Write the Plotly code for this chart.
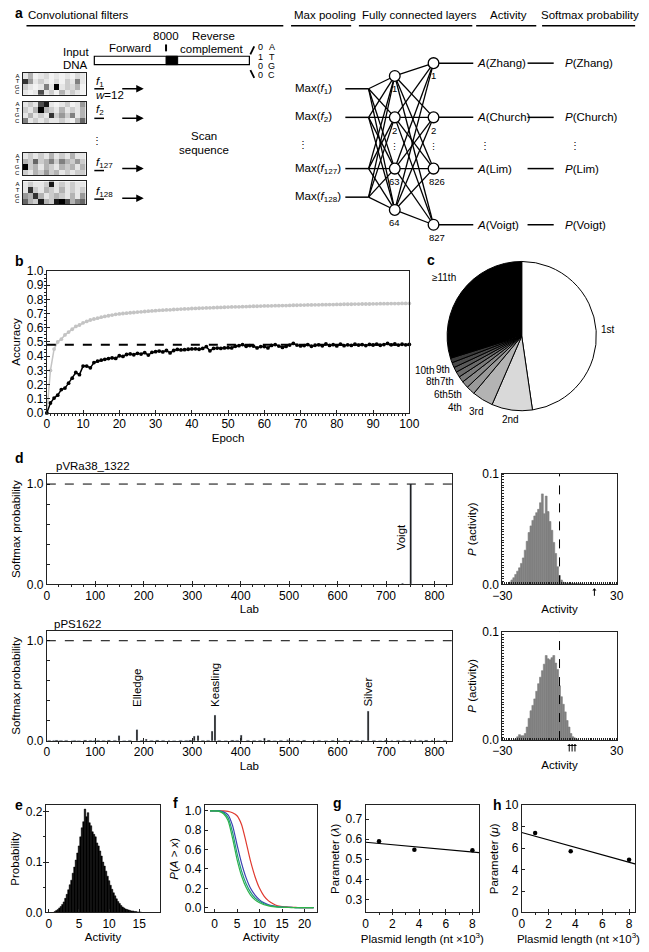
import math
import plotly.graph_objects as go

W, H = 649, 952
FONT = "Liberation Sans, Arial, Helvetica, sans-serif"
TS = 12      # tick label size
AS = 11.5    # title / annotation size


def fx(p):
    return p / W


def fy(p):
    return 1 - p / H


def dxp(a, b):
    return [a / W, b / W]


def dyp(top, bottom):
    return [1 - bottom / H, 1 - top / H]


# ---------------- DATA ----------------
# panel b : accuracy per epoch
epochs = list(range(0, 101))
train_acc = [0.0, 0.30, 0.45, 0.50, 0.52, 0.55, 0.57, 0.59, 0.61, 0.62, 0.635, 0.645, 0.655, 0.662, 0.668,
             0.675, 0.68, 0.685, 0.69, 0.695, 0.698, 0.701, 0.703, 0.706, 0.708, 0.711, 0.713, 0.715, 0.717,
             0.719, 0.721, 0.723, 0.724, 0.726, 0.727, 0.729, 0.730, 0.732, 0.733, 0.734, 0.736, 0.737, 0.738,
             0.739, 0.740, 0.741, 0.742, 0.743, 0.744, 0.745, 0.746, 0.747, 0.748, 0.748, 0.749, 0.750, 0.751,
             0.752, 0.752, 0.753, 0.754, 0.754, 0.755, 0.756, 0.756, 0.757, 0.757, 0.758, 0.759, 0.759, 0.760,
             0.760, 0.761, 0.761, 0.762, 0.762, 0.763, 0.763, 0.764, 0.764, 0.765, 0.765, 0.766, 0.766, 0.766,
             0.767, 0.767, 0.768, 0.768, 0.768, 0.769, 0.769, 0.770, 0.770, 0.770, 0.771, 0.771, 0.771, 0.772,
             0.772, 0.772]
valid_acc = [0.0, 0.07, 0.105, 0.125, 0.165, 0.175, 0.21, 0.245, 0.285, 0.27, 0.33, 0.33, 0.318, 0.355, 0.365,
             0.372, 0.378, 0.383, 0.388, 0.384, 0.403, 0.398, 0.412, 0.416, 0.41, 0.42, 0.415, 0.425, 0.408,
             0.427, 0.432, 0.436, 0.43, 0.44, 0.423, 0.44, 0.448, 0.444, 0.446, 0.449, 0.451, 0.452, 0.449,
             0.455, 0.467, 0.438, 0.455, 0.457, 0.455, 0.458, 0.46, 0.458, 0.47, 0.474, 0.482, 0.47, 0.475,
             0.471, 0.458, 0.468, 0.468, 0.458, 0.476, 0.482, 0.471, 0.462, 0.469, 0.478, 0.49, 0.478, 0.472,
             0.475, 0.482, 0.47, 0.477, 0.48, 0.473, 0.486, 0.476, 0.481, 0.472, 0.485, 0.474, 0.48, 0.476,
             0.484, 0.478, 0.482, 0.475, 0.483, 0.479, 0.485, 0.477, 0.482, 0.49, 0.48, 0.486, 0.478, 0.484,
             0.48, 0.483]
baseline_acc = 0.48

# panel c : rank of the correct lab
rank_labels = ["1st", "2nd", "3rd", "4th", "5th", "6th", "7th", "8th", "9th", "10th", "≥11th"]
rank_share = [47.7, 8.8, 4.6, 1.9, 1.5, 1.3, 1.2, 1.1, 1.1, 1.0, 29.8]

# panel d : softmax probabilities per lab
top_title = "pVRa38_1322"
top_labs = [734, 751]
top_probs = [0.012, 1.0]
top_named = [("Voigt", 731)]
bot_title = "pPS1622"
bot_labs = [14, 52, 98, 149, 186, 205, 252, 304, 312, 341, 347, 401, 449, 497, 551, 603, 663, 712, 760, 795]
bot_probs = [0.008, 0.006, 0.008, 0.055, 0.115, 0.02, 0.008, 0.05, 0.055, 0.1, 0.26, 0.06, 0.03, 0.012,
             0.008, 0.008, 0.3, 0.008, 0.012, 0.01]
bot_small_labs = [5, 20, 29, 40, 57, 66, 79, 90, 106, 117, 128, 140, 160, 171, 196, 216, 228, 240, 263, 276,
                  288, 296, 322, 333, 356, 369, 383, 393, 415, 428, 440, 458, 470, 483, 506, 518, 531, 562,
                  576, 590, 615, 628, 640, 652, 675, 688, 700, 725, 737, 750, 771, 783, 808, 821]
bot_small_probs = [0.008, 0.01, 0.007, 0.009, 0.008, 0.006, 0.01, 0.008, 0.009, 0.007, 0.01, 0.008, 0.006,
                   0.009, 0.008, 0.007, 0.01, 0.008, 0.006, 0.009, 0.008, 0.01, 0.007, 0.009, 0.008, 0.006,
                   0.01, 0.008, 0.009, 0.007, 0.008, 0.01, 0.006, 0.009, 0.008, 0.007, 0.01, 0.008, 0.006,
                   0.009, 0.008, 0.01, 0.007, 0.009, 0.008, 0.006, 0.01, 0.008, 0.009, 0.007, 0.008, 0.01,
                   0.006, 0.009]
bot_named = [("Elledge", 186), ("Keasling", 347), ("Silver", 663)]

# panel d right : activity histograms (bin centers, width 1)
act_bins_top = list(range(-26, 13))
act_p_top = [0.002, 0.004, 0.006, 0.009, 0.012, 0.015, 0.019, 0.024, 0.031, 0.039, 0.047, 0.053, 0.058,
             0.062, 0.065, 0.068, 0.074, 0.082, 0.064, 0.080, 0.066, 0.057, 0.049, 0.038, 0.028, 0.016,
             0.008, 0.004, 0.002, 0.0015, 0.001, 0.001, 0.001, 0.0008, 0.0008, 0.0006, 0.0006, 0.0005, 0.0005]
true_act_top = [18.3]
act_bins_bot = list(range(-23, 10))
act_p_bot = [0.001, 0.003, 0.005, 0.004, 0.004, 0.006, 0.012, 0.020, 0.027, 0.032, 0.038, 0.045, 0.052,
             0.058, 0.064, 0.070, 0.078, 0.075, 0.074, 0.076, 0.078, 0.071, 0.065, 0.050, 0.040, 0.033,
             0.026, 0.018, 0.012, 0.006, 0.003, 0.002, 0.001]
true_act_bot = [5.1, 6.6, 8.1]

# panel e : activity distribution (bin width 0.25)
e_bins = [1.0, 1.25, 1.5, 1.75, 2.0, 2.25, 2.5, 2.75, 3.0, 3.25, 3.5, 3.75, 4.0, 4.25, 4.5, 4.75, 5.0, 5.25,
          5.5, 5.75, 6.0, 6.25, 6.5, 6.75, 7.0, 7.25, 7.5, 7.75, 8.0, 8.25, 8.5, 8.75, 9.0, 9.25, 9.5, 9.75,
          10.0, 10.25, 10.5, 10.75, 11.0, 11.25, 11.5, 11.75, 12.0, 12.25, 12.5, 12.75, 13.0, 13.25, 13.5,
          13.75, 14.0, 14.25, 14.5, 14.75, 15.0, 15.25]
e_prob = [0.002, 0.004, 0.006, 0.009, 0.012, 0.016, 0.021, 0.028, 0.036, 0.045, 0.055, 0.064, 0.078, 0.090,
          0.104, 0.118, 0.132, 0.150, 0.168, 0.180, 0.205, 0.190, 0.198, 0.178, 0.172, 0.160, 0.155, 0.150,
          0.138, 0.132, 0.122, 0.112, 0.100, 0.092, 0.082, 0.072, 0.063, 0.054, 0.046, 0.039, 0.033, 0.027,
          0.022, 0.018, 0.014, 0.011, 0.009, 0.007, 0.006, 0.005, 0.004, 0.003, 0.003, 0.002, 0.002, 0.001,
          0.001, 0.001]

# panel f : survival curves
f_x = list(range(-1, 23))
f_red = [1.0, 1.0, 1.0, 1.0, 0.995, 0.98, 0.95, 0.86, 0.68, 0.48, 0.32, 0.2, 0.12, 0.07, 0.04, 0.02, 0.012,
         0.007, 0.004, 0.002, 0.001, 0.001, 0.0, 0.0]
f_blue = [1.0, 1.0, 1.0, 0.99, 0.96, 0.85, 0.65, 0.46, 0.31, 0.2, 0.13, 0.08, 0.05, 0.03, 0.018, 0.01, 0.006,
          0.003, 0.002, 0.001, 0.001, 0.0, 0.0, 0.0]
f_green = [1.0, 1.0, 0.995, 0.97, 0.9, 0.72, 0.5, 0.33, 0.21, 0.13, 0.08, 0.05, 0.03, 0.018, 0.01, 0.006,
           0.004, 0.002, 0.001, 0.0, 0.0, 0.0, 0.0, 0.0]
f_teal = [1.0, 1.0, 1.0, 0.98, 0.93, 0.78, 0.56, 0.38, 0.25, 0.16, 0.1, 0.065, 0.04, 0.025, 0.015, 0.009,
          0.005, 0.003, 0.002, 0.001, 0.0, 0.0, 0.0, 0.0]

# panels g, h : fitted parameters vs plasmid length
plasmid_len = [1.0, 3.65, 8.0]
lam = [0.59, 0.548, 0.545]
mu = [7.4, 5.7, 4.9]
fit_x = [0.0, 8.5]
fit_lam = [0.585, 0.533]
fit_mu = [7.45, 4.5]

# panel a : example convolution filters (rows A,T,G,C x 12 positions)
bases = ["A", "T", "G", "C"]
filters = [
    [[0.1, 0.3, 0.05, 0.1, 0.15, 0.05, 0.1, 0.05, 0.1, 0.05, 0.15, 0.1],
     [0.8, 0.4, 0.1, 0.2, 0.1, 0.05, 0.15, 0.05, 0.2, 0.1, 0.5, 0.1],
     [0.2, 0.1, 0.05, 0.1, 0.5, 0.1, 1.0, 0.1, 0.2, 0.15, 0.3, 0.05],
     [0.1, 0.05, 0.1, 0.7, 0.1, 0.2, 0.05, 0.3, 0.1, 0.2, 0.1, 0.05]],
    [[0.1, 0.2, 0.1, 0.7, 0.9, 0.1, 0.05, 0.1, 0.2, 0.05, 0.1, 0.4],
     [0.2, 0.1, 0.3, 1.0, 0.3, 0.2, 0.1, 0.3, 0.1, 0.2, 0.1, 0.3],
     [0.1, 0.3, 0.1, 0.2, 0.1, 0.8, 0.2, 0.4, 0.2, 0.5, 0.1, 0.3],
     [0.5, 0.1, 0.2, 0.1, 0.2, 0.1, 0.1, 0.2, 0.1, 0.05, 0.3, 0.6]],
    [[0.1, 0.2, 0.1, 0.2, 0.1, 0.3, 0.1, 0.2, 0.1, 0.3, 0.1, 0.1],
     [0.3, 0.2, 0.6, 0.2, 0.3, 0.5, 0.2, 0.5, 0.3, 0.2, 0.4, 0.2],
     [1.0, 0.2, 0.3, 0.1, 0.3, 0.2, 0.1, 0.3, 0.2, 0.3, 0.1, 0.3],
     [0.2, 0.1, 0.3, 0.2, 0.4, 0.2, 0.3, 0.1, 0.2, 0.1, 0.2, 0.2]],
    [[0.1, 0.2, 0.1, 0.1, 0.2, 0.9, 0.1, 0.2, 0.1, 0.2, 0.1, 0.1],
     [0.1, 0.8, 0.2, 0.1, 0.3, 0.2, 0.1, 0.3, 0.1, 0.2, 0.1, 0.2],
     [0.4, 0.3, 0.8, 0.3, 0.1, 0.2, 0.3, 0.2, 0.1, 0.3, 0.1, 0.4],
     [0.6, 0.3, 0.2, 0.9, 0.3, 0.2, 0.9, 1.0, 0.7, 0.3, 0.5, 0.6]],
]
filter_names = ["1", "2", "127", "128"]
onehot = ["0", "1", "0", "0"]
headers = ["Convolutional filters", "Max pooling", "Fully connected layers", "Activity", "Softmax probability"]
layer1_names = ["1", "2", "63", "64"]
layer2_names = ["1", "2", "826", "827"]
lab_outputs = ["Zhang", "Church", "Lim", "Voigt"]

# ---------------- FIGURE ----------------
fig = go.Figure()
ann = []
shapes = []
INK = "#222"


def axstyle(**kw):
    d = dict(showline=True, linecolor=INK, linewidth=1, mirror=True, ticks="inside", ticklen=3,
             tickcolor=INK, tickfont=dict(size=TS, color="black"), showgrid=False, zeroline=False)
    d.update(kw)
    return d


def ttl(s, standoff=4):
    return dict(text=s, standoff=standoff, font=dict(size=AS, color="black"))


def txt(x, y, s, size=AS, anchor="left", **kw):
    a = dict(x=fx(x), y=fy(y), xref="paper", yref="paper", text=s, showarrow=False, xanchor=anchor,
             yanchor="middle", font=dict(size=size, family=FONT, color="black"))
    a.update(kw)
    ann.append(a)


def pline(x0, y0, x1, y1, w=1.0, color="black", dash=None):
    ln = dict(color=color, width=w)
    if dash:
        ln["dash"] = dash
    shapes.append(dict(type="line", xref="paper", yref="paper", x0=fx(x0), y0=fy(y0), x1=fx(x1), y1=fy(y1),
                       line=ln))


# ---- panel b
fig.add_trace(go.Scatter(x=epochs, y=train_acc, mode="lines+markers", line=dict(color="#c4c4c4", width=1.5),
                         marker=dict(size=3.8, color="#c4c4c4"), xaxis="x", yaxis="y", cliponaxis=False,
                         showlegend=False))
fig.add_trace(go.Scatter(x=[epochs[0], epochs[-1]], y=[baseline_acc, baseline_acc], mode="lines",
                         line=dict(color="black", width=2, dash="dash"), xaxis="x", yaxis="y", showlegend=False))
fig.add_trace(go.Scatter(x=epochs, y=valid_acc, mode="lines+markers", line=dict(color="black", width=1.5),
                         marker=dict(size=3.8, color="black"), xaxis="x", yaxis="y", cliponaxis=False,
                         showlegend=False))

# ---- panel c
grays = ["#ffffff", "#d9d9d9", "#b3b3b3", "#9a9a9a", "#8a8a8a", "#7a7a7a", "#6a6a6a", "#5a5a5a", "#4a4a4a",
         "#3a3a3a", "#000000"]
pie_cx, pie_cy, pie_r = 528, 334, 77
fig.add_trace(go.Pie(labels=rank_labels, values=rank_share, sort=False, direction="clockwise", rotation=0,
                     textinfo="none", hoverinfo="label+value", marker=dict(colors=grays, line=dict(color="black", width=1)),
                     domain=dict(x=dxp(pie_cx - pie_r, pie_cx + pie_r), y=dyp(pie_cy - pie_r, pie_cy + pie_r)),
                     showlegend=False))
label_r = [89, 85, 90, 100, 91, 102, 90, 103, 88, 106, 100]
tot = sum(rank_share)
cum = 0.0
for lbl, v, rr in zip(rank_labels, rank_share, label_r):
    mid = (cum + v / 2) / tot * 2 * math.pi
    cum += v
    txt(pie_cx + rr * math.sin(mid), pie_cy - rr * math.cos(mid), lbl, size=10, anchor="center")

# ---- panel d (bars)
fig.add_trace(go.Bar(x=top_labs, y=top_probs, width=4, marker=dict(color="black"), xaxis="x2", yaxis="y2",
                     showlegend=False))
fig.add_trace(go.Bar(x=bot_small_labs, y=bot_small_probs, width=7, marker=dict(color="black"), xaxis="x4",
                     yaxis="y4", showlegend=False))
fig.add_trace(go.Bar(x=bot_labs, y=bot_probs, width=4, marker=dict(color="black"), xaxis="x4", yaxis="y4",
                     showlegend=False))
for name, lab in top_named:
    ann.append(dict(x=lab, y=0.32, xref="x2", yref="y2", text=name, textangle=-90, showarrow=False,
                    xanchor="center", yanchor="bottom", font=dict(size=AS, family=FONT, color="black")))
for name, lab in bot_named:
    ann.append(dict(x=lab, y=0.32, xref="x4", yref="y4", text=name, textangle=-90, showarrow=False,
                    xanchor="center", yanchor="bottom", font=dict(size=AS, family=FONT, color="black")))
for xa, ya in (("x2", "y2"), ("x4", "y4")):
    shapes.append(dict(type="line", xref=xa + " domain", yref=ya, x0=0, x1=1, y0=1, y1=1,
                       line=dict(color="black", width=1, dash="dash")))

# ---- panel d (histograms)
HG = "#808080"
fig.add_trace(go.Bar(x=act_bins_top, y=act_p_top, width=1, marker=dict(color=HG, line=dict(color=HG, width=0.6)),
                     xaxis="x3", yaxis="y3", showlegend=False))
fig.add_trace(go.Bar(x=act_bins_bot, y=act_p_bot, width=1, marker=dict(color=HG, line=dict(color=HG, width=0.6)),
                     xaxis="x5", yaxis="y5", showlegend=False))
for xa in ("x3", "x5"):
    shapes.append(dict(type="line", xref=xa, yref=xa.replace("x", "y") + " domain", x0=0, x1=0, y0=0, y1=1,
                       line=dict(color="black", width=1, dash="dash")))
for v in true_act_top:
    ann.append(dict(x=v, y=fy(590), xref="x3", yref="paper", text="", showarrow=True, ax=0, ay=9,
                    arrowhead=1, arrowsize=0.7, arrowwidth=1, arrowcolor="black"))
for v in true_act_bot:
    ann.append(dict(x=v, y=fy(748), xref="x5", yref="paper", text="", showarrow=True, ax=0, ay=9,
                    arrowhead=1, arrowsize=0.7, arrowwidth=1, arrowcolor="black"))

# ---- panel e
fig.add_trace(go.Bar(x=e_bins, y=e_prob, width=0.25, marker=dict(color="black", line=dict(color="black", width=0.5)),
                     xaxis="x6", yaxis="y6", showlegend=False))

# ---- panel f
for ys, col in ((f_red, "#e03a2f"), (f_blue, "#3b3fb0"), (f_teal, "#1f9a7e"), (f_green, "#2db34a")):
    fig.add_trace(go.Scatter(x=f_x, y=ys, mode="lines",
                             line=dict(color=col, width=1.2, shape="spline", smoothing=0.6),
                             xaxis="x7", yaxis="y7", showlegend=False))

# ---- panel g, h
fig.add_trace(go.Scatter(x=fit_x, y=fit_lam, mode="lines", line=dict(color="black", width=1.2), xaxis="x8",
                         yaxis="y8", showlegend=False))
fig.add_trace(go.Scatter(x=plasmid_len, y=lam, mode="markers", marker=dict(color="black", size=4.5), xaxis="x8",
                         yaxis="y8", showlegend=False))
fig.add_trace(go.Scatter(x=fit_x, y=fit_mu, mode="lines", line=dict(color="black", width=1.2), xaxis="x9",
                         yaxis="y9", showlegend=False))
fig.add_trace(go.Scatter(x=plasmid_len, y=mu, mode="markers", marker=dict(color="black", size=4.5), xaxis="x9",
                         yaxis="y9", showlegend=False))

# ---- panel a: filter heatmaps
filter_boxes = [(67, 89), (96, 118), (148, 171), (177, 200)]
for i, (mat, (t, b)) in enumerate(zip(filters, filter_boxes)):
    k = 10 + i
    fig.add_trace(go.Heatmap(z=mat, x=list(range(12)), y=bases, colorscale=[[0, "white"], [1, "black"]],
                             zmin=0, zmax=1, showscale=False, xaxis=f"x{k}", yaxis=f"y{k}", xgap=0, ygap=0))

# ---------------- LAYOUT ----------------
lay = dict(width=W, height=H, margin=dict(l=0, r=0, t=0, b=0), paper_bgcolor="white", plot_bgcolor="white",
           font=dict(family=FONT, size=AS, color="black"), barmode="overlay", bargap=0)

lay["xaxis"] = axstyle(domain=dxp(38, 412), anchor="y", range=[0, 100], dtick=10, minor=dict(dtick=1, ticklen=2),
                       title=ttl("Epoch", 3))
lay["yaxis"] = axstyle(domain=dyp(268, 412), anchor="x", range=[0, 1], dtick=0.1, tickformat=".1f",
                       minor=dict(dtick=0.025, ticklen=2), title=ttl("Accuracy", 3))

dtv = [0, 0.2, 0.4, 0.6, 0.8, 1.0]
dtt = ["0.0", "", "", "", "", "1.0"]
for xa, ya, top, bot in (("xaxis2", "yaxis2", 474, 586), ("xaxis4", "yaxis4", 633, 745)):
    n = xa[-1]
    lay[xa] = axstyle(domain=dxp(38, 456), anchor="y" + n, range=[0, 836], dtick=100,
                      minor=dict(dtick=25, ticklen=2), title=ttl("Lab", 3))
    lay[ya] = axstyle(domain=dyp(top, bot), anchor="x" + n, range=[0, 1.1], tickmode="array", tickvals=dtv,
                      ticktext=dtt, title=ttl("Softmax probability", 3))

for xa, ya, top, bot in (("xaxis3", "yaxis3", 474, 586), ("xaxis5", "yaxis5", 634, 744)):
    n = xa[-1]
    lay[xa] = axstyle(domain=dxp(508, 626), anchor="y" + n, range=[-30, 30], tickmode="array",
                      tickvals=[-30, 30], ticktext=["−30", "30"], ticks="",
                      minor=dict(dtick=1, ticklen=2, ticks="inside", tickcolor=INK),
                      title=ttl("Activity", 3))
    lay[ya] = axstyle(domain=dyp(top, bot), anchor="x" + n, range=[0, 0.1], tickmode="array", tickvals=[0, 0.1],
                      ticktext=["0.0", "0.1"], ticks="",
                      minor=dict(dtick=0.0025, ticklen=2, ticks="inside", tickcolor=INK),
                      title=ttl("<i>P</i> (activity)", 3))

lay["xaxis6"] = axstyle(domain=dxp(37, 155), anchor="y6", range=[-0.5, 18.5], dtick=5, title=ttl("Activity", 3))
lay["yaxis6"] = axstyle(domain=dyp(810, 919), anchor="x6", range=[0, 0.213], dtick=0.1, tickformat=".1f",
                        minor=dict(dtick=0.05, ticklen=2), title=ttl("Probability", 3))
lay["xaxis7"] = axstyle(domain=dxp(201, 317), anchor="y7", range=[-2.15, 22.8], dtick=5, title=ttl("Activity", 3))
lay["yaxis7"] = axstyle(domain=dyp(810, 919), anchor="x7", range=[-0.05, 1.06], dtick=0.2, tickformat=".1f",
                        title=ttl("<i>P</i>(<i>A</i> > <i>x</i>)", 3))
lay["xaxis8"] = axstyle(domain=dxp(367, 484), anchor="y8", range=[0, 8.5], dtick=2, minor=dict(dtick=1, ticklen=2),
                        title=ttl("Plasmid length (nt ×10<sup>3</sup>)", 3))
lay["yaxis8"] = axstyle(domain=dyp(810, 919), anchor="x8", range=[0.235, 0.77], dtick=0.1, tickformat=".1f",
                        title=ttl("Parameter (<i>λ</i>)", 3))
lay["xaxis9"] = axstyle(domain=dxp(528, 645), anchor="y9", range=[0, 8.45], dtick=2, minor=dict(dtick=1, ticklen=2),
                        title=ttl("Plasmid length (nt ×10<sup>3</sup>)", 3))
lay["yaxis9"] = axstyle(domain=dyp(810, 919), anchor="x9", range=[0, 10], dtick=2,
                        title=ttl("Parameter (<i>μ</i>)", 3))

for i, (t, b) in enumerate(filter_boxes):
    k = 10 + i
    lay[f"xaxis{k}"] = dict(domain=dxp(13, 78), anchor=f"y{k}", range=[-0.5, 11.5], showticklabels=False,
                            ticks="", showline=True, mirror=True, linecolor=INK, linewidth=1, showgrid=False,
                            zeroline=False)
    lay[f"yaxis{k}"] = dict(domain=dyp(t, b), anchor=f"x{k}", autorange="reversed", showticklabels=True,
                            tickmode="array", tickvals=bases, ticktext=bases,
                            tickfont=dict(size=6), ticks="", ticklabelstandoff=1, showline=True, mirror=True,
                            linecolor=INK, linewidth=1, showgrid=False, zeroline=False)

# ---- panel a: schematic text & shapes
head_x = [17, 291, 361, 493, 546]
under = [(17, 282), (290, 352), (360, 477), (481, 543), (549, 645)]
for h, x0 in zip(headers, head_x):
    txt(x0, 8, h, size=AS)
for a0, a1 in under:
    pline(a0, 19, a1, 19, w=1.5)

txt(161, 29, "8000", anchor="center")
pline(161, 38, 161, 45, w=2)
txt(124, 42, "Forward", anchor="center")
txt(210, 29, "Reverse", anchor="center")
txt(208, 43, "complement", anchor="center")
txt(68, 46, "Input", anchor="center")
txt(68, 59, "DNA", anchor="center")
shapes.append(dict(type="rect", xref="paper", yref="paper", x0=fx(87), x1=fx(247), y0=fy(50), y1=fy(58.5),
                   line=dict(color="black", width=1.2), fillcolor="white"))
shapes.append(dict(type="rect", xref="paper", yref="paper", x0=fx(161), x1=fx(173), y0=fy(50), y1=fy(58.5),
                   line=dict(color="black", width=1), fillcolor="black"))
pline(248, 48, 252, 40, w=1.8)
pline(248, 64, 252, 72, w=1.8)
for j, (d, bname) in enumerate(zip(onehot, bases)):
    yy = 41 + j * 9.3
    txt(258, yy, d, size=9, anchor="center")
    txt(270, yy, bname, size=9, anchor="center")

f_text_y = [76, 105, 158, 188]
f_under_y = [83, 113, 166, 195]
arrow_y = [83, 113, 164, 194]
for name, ty, uy, ay in zip(filter_names, f_text_y, f_under_y, arrow_y):
    txt(87, ty, f"<i>f</i><sub>{name}</sub>")
    pline(87, uy, 97, uy, w=1.5)
    ann.append(dict(x=fx(138), y=fy(ay), xref="paper", yref="paper", ax=-23, ay=0,
                    text="", showarrow=True, arrowhead=2, arrowsize=1, arrowwidth=1.5,
                    arrowcolor="black"))
txt(87, 89, "<i>w</i>=12")
txt(90, 135, "⋮", size=10, anchor="center")
txt(200, 131, "Scan", anchor="center")
txt(200, 145, "sequence", anchor="center")

in_y = [83, 112, 164, 193]
for name, yy in zip(filter_names, in_y):
    txt(292, yy, f"Max(<i>f</i><sub>{name}</sub>)")
txt(302, 140, "⋮", size=10, anchor="center")

l1x, l2x = 397, 437
l1y = [70, 112, 164, 206]
l2y = [57, 112, 164, 221]
for yy in in_y:
    pline(346, yy, 370, yy, w=1.5)
    for y1 in l1y:
        pline(370, yy, l1x, y1, w=1.3)
for y1 in l1y:
    for y2 in l2y:
        pline(l1x, y1, l2x, y2, w=1.3)
for y2 in l2y:
    pline(l2x, y2, 478, y2, w=1.5)
nr = 5.5
for cx, ys in ((l1x, l1y), (l2x, l2y)):
    for yy in ys:
        shapes.append(dict(type="circle", xref="paper", yref="paper", x0=fx(cx - nr), x1=fx(cx + nr),
                           y0=fy(yy + nr), y1=fy(yy - nr), line=dict(color="black", width=1.3),
                           fillcolor="white"))
for name, yy in zip(layer1_names, l1y):
    txt(l1x, yy + 13, name, size=9.5, anchor="center")
for name, yy in zip(layer2_names, l2y):
    txt(l2x + (4 if len(name) > 1 else 0), yy + 13, name, size=9.5, anchor="center")
txt(l1x, 142, "⋮", size=9, anchor="center")
txt(l2x, 142, "⋮", size=9, anchor="center")

for name, yy in zip(lab_outputs, l2y):
    txt(480, yy, f"<i>A</i>({name})")
    pline(534, yy, 561, yy, w=1.5)
    txt(571, yy, f"<i>P</i>({name})")
txt(490, 141, "⋮", size=10, anchor="center")
txt(583, 141, "⋮", size=10, anchor="center")

# panel titles inside d
txt(45, 466, top_title)
txt(43, 626, bot_title)

# panel letters
for letter, (x0, y0) in zip("abcdefgh", [(3, 6), (3, 258), (428, 257), (3, 458), (3, 810), (166, 808),
                                         (331, 808), (496, 810)]):
    txt(x0, y0, f"<b>{letter}</b>", size=14)

lay["annotations"] = ann
lay["shapes"] = shapes
fig.update_layout(**lay)
fig.write_html("out.html", config={"displayModeBar": False, "staticPlot": True},
               post_script="document.body.style.margin='0';document.body.style.overflow='hidden';")
